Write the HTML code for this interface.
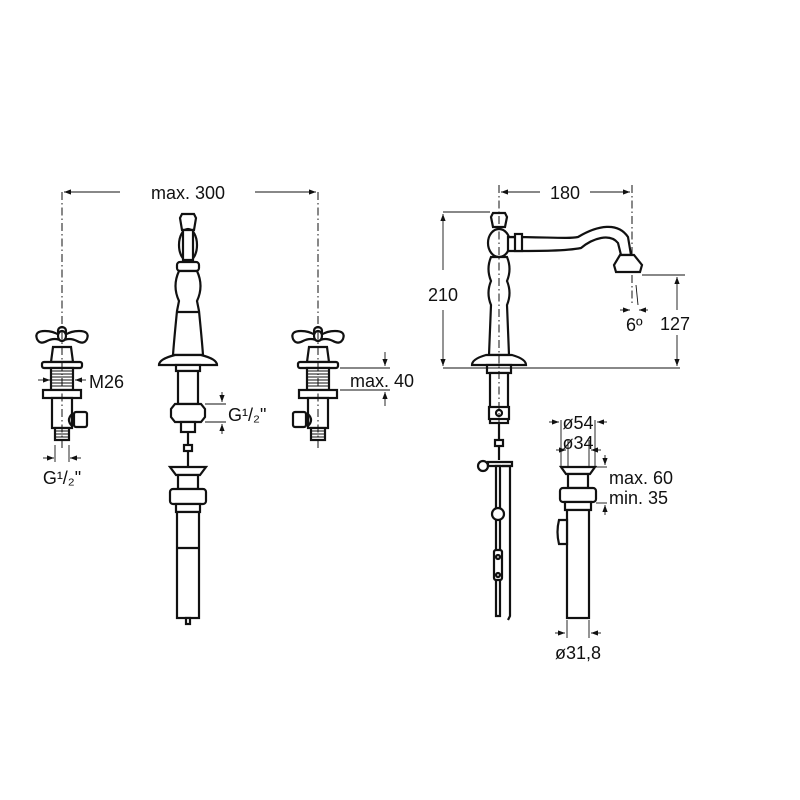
<!DOCTYPE html>
<html><head><meta charset="utf-8"><style>
html,body{margin:0;padding:0;background:#fff}
svg{display:block}
text{font-family:"Liberation Sans",sans-serif;font-size:18px;fill:#111}
.l{fill:none;stroke:#111;stroke-width:2.2}
.f{fill:#fff;stroke:#111;stroke-width:2.2}
.t{fill:none;stroke:#111;stroke-width:0.9}
.d{fill:none;stroke:#111;stroke-width:1;stroke-dasharray:8,3,1.5,3}
</style></head><body>
<svg width="800" height="800" viewBox="0 0 800 800">
<defs>
<marker id="a" markerWidth="8" markerHeight="6" refX="8" refY="3" orient="auto"><path d="M0,0 L8,3 L0,6z" fill="#111"/></marker>
<g id="valve">
 <path class="f" d="M-25,-3 q-3,-8 8,-8 q8,0 14,4 q-3,-7 3,-8 q6,1 3,8 q6,-4 14,-4 q11,0 8,8 q-3,6 -10,2 q-8,-4 -15,0 q-7,-4 -15,0 q-7,4 -10,-2z"/>
 <ellipse class="f" cx="0" cy="-6" rx="4" ry="5"/>
 <path class="f" d="M-9,5 L9,5 L11,20 L-11,20z"/>
 <rect class="f" x="-20" y="20" width="40" height="6" rx="2"/>
 <rect class="f" x="-11" y="26" width="22" height="22"/>
 <path class="t" d="M-11,29h22M-11,32h22M-11,35h22M-11,38h22M-11,41h22M-11,44h22"/>
 <rect class="f" x="-19" y="48" width="38" height="8"/>
 <rect class="f" x="-10" y="56" width="20" height="30"/>
 <rect class="f" x="-7" y="86" width="14" height="12"/>
 <path class="t" d="M-7,89h14M-7,92h14M-7,95h14"/>
</g>
</defs>
<g transform="translate(62,342)"><use href="#valve"/><rect class="f" x="12" y="70" width="13" height="15" rx="2"/><path class="l" d="M10,72 q-6,6 0,12"/></g>
<g transform="translate(318,342)"><use href="#valve"/><rect class="f" x="-25" y="70" width="13" height="15" rx="2"/><path class="l" d="M-10,72 q6,6 0,12"/></g>
<line class="d" x1="62" y1="192" x2="62" y2="450"/>
<line class="d" x1="318" y1="192" x2="318" y2="450"/>
<line class="t" x1="120" y1="192" x2="64" y2="192" marker-end="url(#a)"/>
<line class="t" x1="255" y1="192" x2="316" y2="192" marker-end="url(#a)"/>
<text x="188" y="199" text-anchor="middle">max. 300</text>
<line class="t" x1="38" y1="380" x2="50" y2="380" marker-end="url(#a)"/>
<line class="t" x1="86" y1="380" x2="75" y2="380" marker-end="url(#a)"/>
<text x="89" y="388">M26</text>
<line class="t" x1="55" y1="445" x2="55" y2="462"/><line class="t" x1="69" y1="445" x2="69" y2="462"/>
<line class="t" x1="43" y1="458" x2="54" y2="458" marker-end="url(#a)"/>
<line class="t" x1="81" y1="458" x2="70" y2="458" marker-end="url(#a)"/>
<text x="62" y="484" text-anchor="middle">G¹/₂"</text>
<line class="t" x1="340" y1="368" x2="390" y2="368"/><line class="t" x1="340" y1="390" x2="390" y2="390"/>
<line class="t" x1="385" y1="352" x2="385" y2="366" marker-end="url(#a)"/>
<line class="t" x1="385" y1="406" x2="385" y2="392" marker-end="url(#a)"/>
<text x="350" y="387">max. 40</text>
<g>
 <path class="f" d="M182,214 h12 l2,4 l-2,12 h-12 l-2,-12z"/>
 <ellipse class="f" cx="188" cy="245" rx="9" ry="16"/>
 <path class="f" d="M183,230 h10 v30 h-10z"/>
 <rect class="f" x="177" y="262" width="22" height="9" rx="3"/>
 <path class="f" d="M179,271 h18 q7,15 0,30 l2,10 q3,30 4,44 h-30 q1,-14 4,-44 l2,-10 q-7,-15 0,-30z"/>
 <line class="l" x1="177" y1="312" x2="199" y2="312"/>
 <path class="f" d="M175,355 h26 q16,4 16,10 h-58 q0,-6 16,-10z"/>
 <rect class="f" x="176" y="365" width="24" height="6"/>
 <rect class="f" x="178" y="371" width="20" height="33"/>
 <path class="f" d="M175,404 h26 l4,5 v8 l-4,5 h-26 l-4,-5 v-8z"/>
 <rect class="f" x="181" y="422" width="14" height="10"/>
 <line class="l" x1="188" y1="432" x2="188" y2="468"/>
 <rect class="f" x="184" y="445" width="8" height="6"/>
 <path class="f" d="M170,467 h36 l-6,8 h-24z"/>
 <rect class="f" x="178" y="475" width="20" height="14"/>
 <rect class="f" x="170" y="489" width="36" height="15" rx="3"/>
 <rect class="f" x="176" y="504" width="24" height="8"/>
 <rect class="f" x="177" y="512" width="22" height="106"/>
 <line class="l" x1="177" y1="548" x2="199" y2="548"/>
 <rect class="f" x="186" y="618" width="4" height="6"/>
</g>
<line class="t" x1="205" y1="404" x2="226" y2="404"/><line class="t" x1="205" y1="422" x2="226" y2="422"/>
<line class="t" x1="222" y1="392" x2="222" y2="402" marker-end="url(#a)"/>
<line class="t" x1="222" y1="434" x2="222" y2="424" marker-end="url(#a)"/>
<text x="228" y="421">G¹/₂"</text>
<g>
 <path class="f" d="M493,213 h12 l2,4 l-2,10 h-12 l-2,-10z"/>
 <ellipse class="f" cx="499" cy="243" rx="11" ry="14"/>
 <path class="f" d="M508,237 c40,0 60,2 70,0 c20,-12 40,-15 50,0 l3,18 h-10 l-3,-12 c-8,-10 -25,-5 -37,5 c-15,3 -40,3 -73,3z"/>
 <rect class="f" x="515" y="234" width="7" height="17"/>
 <path class="f" d="M620,255 h14 l8,10 l-2,7 h-24 l-2,-7z"/>
 <path class="f" d="M491,257 h16 q5,12 0,24 q5,12 0,24 l2,50 h-20 l2,-50 q-5,-12 0,-24 q-5,-12 0,-24z"/>
 <path class="f" d="M486,355 h26 q14,4 14,10 h-54 q0,-6 14,-10z"/>
 <rect class="f" x="487" y="365" width="24" height="8"/>
 <rect class="f" x="490" y="373" width="18" height="50"/>
 <rect class="f" x="489" y="407" width="20" height="12"/>
 <circle class="l" cx="499" cy="413" r="3"/>
 <line class="l" x1="499" y1="423" x2="499" y2="460"/>
 <rect class="f" x="495" y="440" width="8" height="6"/>
 <circle class="f" cx="483" cy="466" r="5"/>
 <path class="f" d="M488,462 h24 v4 h-24z"/>
 <path class="f" d="M496,466 h4 v150 h-4z"/>
 <path class="l" d="M502,466 h8 v150 l-2,4"/>
 <circle class="f" cx="498" cy="514" r="6"/>
 <rect class="f" x="494" y="550" width="8" height="30" rx="2"/>
 <circle class="l" cx="498" cy="557" r="2"/><circle class="l" cx="498" cy="575" r="2"/>
</g>
<line class="d" x1="499" y1="185" x2="499" y2="440"/>
<line class="d" x1="632" y1="185" x2="632" y2="255"/>
<line class="t" x1="540" y1="192" x2="501" y2="192" marker-end="url(#a)"/>
<line class="t" x1="590" y1="192" x2="630" y2="192" marker-end="url(#a)"/>
<text x="565" y="199" text-anchor="middle">180</text>
<line class="t" x1="443" y1="212" x2="490" y2="212"/>
<line class="t" x1="443" y1="368" x2="680" y2="368"/>
<line class="t" x1="443" y1="270" x2="443" y2="214" marker-end="url(#a)"/>
<line class="t" x1="443" y1="310" x2="443" y2="366" marker-end="url(#a)"/>
<text x="443" y="301" text-anchor="middle">210</text>
<line class="t" x1="642" y1="275" x2="685" y2="275"/>
<line class="t" x1="677" y1="310" x2="677" y2="277" marker-end="url(#a)"/>
<line class="t" x1="677" y1="335" x2="677" y2="366" marker-end="url(#a)"/>
<text x="660" y="330">127</text>
<line class="d" x1="632" y1="275" x2="632" y2="305"/>
<line class="t" x1="636" y1="285" x2="638" y2="305"/>
<line class="t" x1="620" y1="310" x2="630" y2="310" marker-end="url(#a)"/>
<line class="t" x1="648" y1="310" x2="639" y2="310" marker-end="url(#a)"/>
<text x="626" y="331">6º</text>
<g>
 <path class="f" d="M561,467 h34 l-5,7 h-24z"/>
 <rect class="f" x="568" y="474" width="20" height="14"/>
 <rect class="f" x="560" y="488" width="36" height="14" rx="3"/>
 <rect class="f" x="565" y="502" width="26" height="8"/>
 <rect class="f" x="567" y="510" width="22" height="108"/>
 <path class="f" d="M567,520 h-8 q-3,12 0,24 h8z"/>
</g>
<line class="t" x1="561" y1="420" x2="561" y2="468"/><line class="t" x1="595" y1="420" x2="595" y2="468"/>
<line class="t" x1="568" y1="440" x2="568" y2="468"/><line class="t" x1="589" y1="440" x2="589" y2="468"/>
<line class="t" x1="549" y1="422" x2="559" y2="422" marker-end="url(#a)"/>
<line class="t" x1="607" y1="422" x2="597" y2="422" marker-end="url(#a)"/>
<text x="578" y="429" text-anchor="middle">ø54</text>
<line class="t" x1="556" y1="450" x2="566" y2="450" marker-end="url(#a)"/>
<line class="t" x1="601" y1="450" x2="591" y2="450" marker-end="url(#a)"/>
<text x="578" y="449" text-anchor="middle">ø34</text>
<line class="t" x1="595" y1="467" x2="607" y2="467"/><line class="t" x1="596" y1="503" x2="607" y2="503"/>
<line class="t" x1="605" y1="455" x2="605" y2="465" marker-end="url(#a)"/>
<line class="t" x1="605" y1="515" x2="605" y2="505" marker-end="url(#a)"/>
<text x="609" y="484">max. 60</text>
<text x="609" y="504">min. 35</text>
<line class="t" x1="567" y1="620" x2="567" y2="638"/><line class="t" x1="589" y1="620" x2="589" y2="638"/>
<line class="t" x1="555" y1="633" x2="565" y2="633" marker-end="url(#a)"/>
<line class="t" x1="601" y1="633" x2="591" y2="633" marker-end="url(#a)"/>
<text x="578" y="659" text-anchor="middle">ø31,8</text>
</svg>
</body></html>
